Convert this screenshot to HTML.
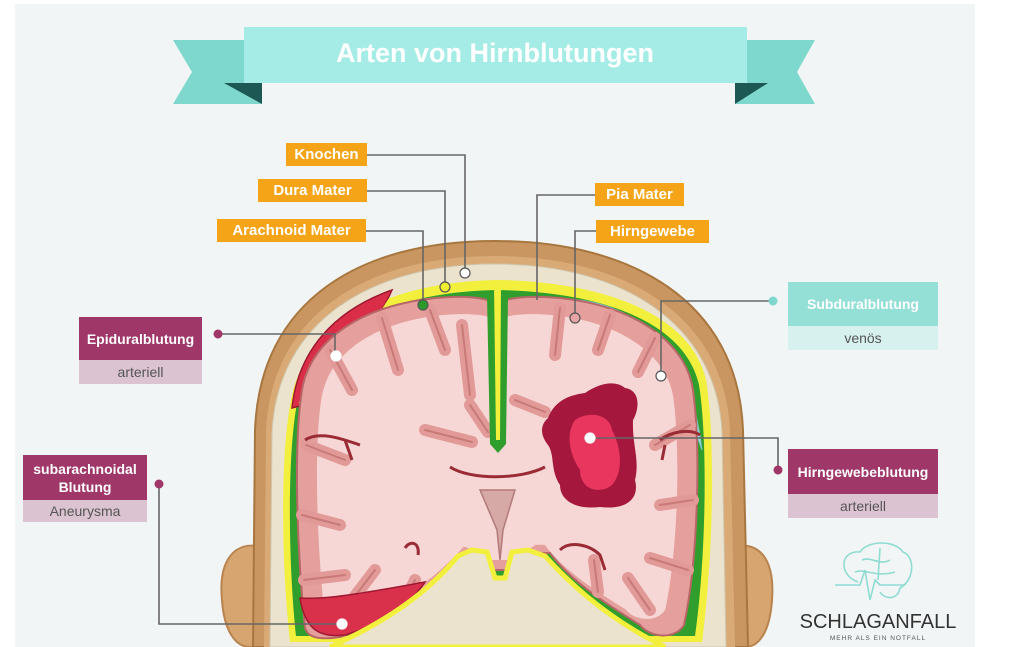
<!DOCTYPE html>
<html><head><meta charset="utf-8"><style>
html,body{margin:0;padding:0;background:#fff;}
body{width:1024px;height:647px;overflow:hidden;position:relative;font-family:"Liberation Sans",sans-serif;}
.bg{position:absolute;left:15px;top:4px;width:960px;height:643px;background:#f2f5f5;}
.lab{position:absolute;background:#f5a418;color:#fff;font-weight:bold;font-size:15px;line-height:23px;text-align:center;white-space:nowrap;}
.mg{position:absolute;background:#9f3769;color:#fff;font-weight:bold;font-size:14px;text-align:center;display:flex;align-items:center;justify-content:center;line-height:18px;}
.mgs{position:absolute;background:#dcc3d1;color:#555;font-size:14px;text-align:center;line-height:24px;}
.tl{position:absolute;background:#94e0d7;color:#fff;font-weight:bold;font-size:14px;text-align:center;line-height:44px;}
.tls{position:absolute;background:#d6f1ee;color:#555;font-size:14px;text-align:center;line-height:24px;}
</style></head><body>
<div class="bg"></div>
<svg width="1024" height="647" style="position:absolute;left:0;top:0">
<polygon points="173,40 262,40 262,104 173,104 192,72" fill="#7fd8cd"/>
<polygon points="815,40 735,40 735,104 815,104 797,72" fill="#7fd8cd"/>
<polygon points="224,83 262,83 262,104" fill="#1d5854"/>
<polygon points="768,83 735,83 735,104" fill="#1d5854"/>
<rect x="244" y="27" width="503" height="56" fill="#a4ece5"/>
<text x="495" y="62" text-anchor="middle" font-family="Liberation Sans" font-weight="bold" font-size="27" fill="#fff">Arten von Hirnblutungen</text>
<path d="M262,547 C235,540 218,560 222,600 C224,630 235,647 250,647 L268,647 Z" fill="#d7a56f" stroke="#b8834f" stroke-width="2"/>
<path d="M732,547 C760,540 775,560 772,600 C770,630 760,647 745,647 L728,647 Z" fill="#d7a56f" stroke="#b8834f" stroke-width="2"/>
<path d="M253,647 L255,430 C260,300 360,241 495,241 C630,241 738,300 743,430 L748,647 Z" fill="#c99560" stroke="#a8773f" stroke-width="2"/>
<path d="M264,647 L266,430 C272,312 370,256 495,256 C620,256 724,312 730,430 L735,647 Z" fill="#d9aa76"/>
<path d="M270,647 L272,432 C278,320 372,264 495,264 C618,264 716,320 722,432 L726,647 Z" fill="#ebe3cd" stroke="#cfc6ae" stroke-width="1"/>
<path d="M290,642 C281,560 280,450 292,395 C306,330 380,282 497,280 C612,282 692,318 706,380 C716,440 713,560 702,642 Z" fill="#f2f03c"/>
<path d="M296,636 C288,560 287,450 298,398 C310,336 382,292 497,290 C610,292 686,326 699,385 C708,440 706,560 695,636 Z" fill="#2f9e2c"/>
<!-- epidural -->
<path d="M292,408 C298,350 335,310 392,290 C378,322 345,365 300,406 Z" fill="#d92d48" stroke="#9e1830" stroke-width="1.5"/>
<path d="M300,404 C340,368 372,330 390,300" fill="none" stroke="#f2f03c" stroke-width="4"/>
<!-- subdural -->
<path d="M580,300 C640,308 690,350 702,450 C685,400 650,350 580,300 Z" fill="#9fdde0" stroke="#7bc3c8" stroke-width="1"/>
<path d="M305,628 C296,540 294,440 302,390 C312,330 380,300 450,297 C480,296 492,300 497,305 C502,300 515,296 545,297 C620,300 685,335 693,390 C701,450 698,560 684,625 C675,640 650,638 640,625 C600,600 570,580 550,553 L540,553 C530,560 520,565 508,570 L490,570 C480,565 470,558 460,555 C430,590 380,625 340,637 C320,640 308,638 305,628 Z" fill="#e5a09d" stroke="#b76767" stroke-width="2"/>
<g transform="translate(497,470) scale(0.9) translate(-497,-470)">
<path d="M305,628 C296,540 294,440 302,390 C312,330 380,300 450,297 C480,296 492,300 497,305 C502,300 515,296 545,297 C620,300 685,335 693,390 C701,450 698,560 684,625 C675,640 650,638 640,625 C600,600 570,580 550,553 L540,553 C530,560 520,565 508,570 L490,570 C480,565 470,558 460,555 C430,590 380,625 340,637 C320,640 308,638 305,628 Z" fill="#f7d7d5"/>
</g>
<g fill="none" stroke="#e19a97" stroke-width="12" stroke-linecap="round">
<path d="M330,350 L352,390 M382,318 L398,370 M430,310 L445,350 M462,325 L470,395 M306,445 L345,460 M302,515 L340,525 M304,580 L345,575 M352,600 L375,570 M400,612 L415,580 M425,430 L472,442 M470,405 L488,432"/>
<path d="M560,308 L555,355 M610,315 L598,350 M655,338 L638,372 M690,425 L655,445 M693,500 L660,505 M688,570 L650,558 M650,610 L628,578 M598,592 L594,560 M515,400 L545,412"/>
</g>
<g fill="none" stroke="#c87a78" stroke-width="2" stroke-linecap="round">
<path d="M330,350 L352,390 M382,318 L398,370 M430,310 L445,350 M462,325 L470,395 M306,445 L345,460 M302,515 L340,525 M304,580 L345,575 M352,600 L375,570 M400,612 L415,580 M425,430 L472,442 M470,405 L488,432"/>
<path d="M560,308 L555,355 M610,315 L598,350 M655,338 L638,372 M690,425 L655,445 M693,500 L660,505 M688,570 L650,558 M650,610 L628,578 M598,592 L594,560 M515,400 L545,412"/>
</g>
<g fill="none" stroke="#9a2b35" stroke-width="3">
<path d="M305,440 C320,430 345,440 360,445 M345,440 L352,460"/>
<path d="M660,440 C670,432 690,428 700,435 M665,445 L662,460"/>
<path d="M450,467 C470,480 520,480 545,467"/>
<path d="M560,550 C570,540 590,545 600,555 L605,570"/>
<path d="M405,548 C410,540 420,542 418,555"/>
</g>
<path d="M480,490 L497,530 L500,560 L503,530 L515,490 Z" fill="#d6a9a6" stroke="#b27a78" stroke-width="1.5"/>
<polygon points="487,296 508,296 506,444 498,453 490,444" fill="#2f9e2c"/>
<polygon points="494,284 501,284 500,440 496,440" fill="#f2f03c"/>
<path d="M300,598 C330,600 380,590 425,582 C410,605 380,625 345,635 C320,638 305,630 300,598 Z" fill="#d9304c" stroke="#9e1830" stroke-width="1.5"/>
<path d="M548,418 C555,400 570,395 585,393 C600,383 615,380 625,388 C640,390 640,408 633,420 C632,445 640,460 635,480 C640,500 625,510 600,507 C575,510 560,500 560,485 C550,470 555,455 548,445 C540,435 540,425 548,418 Z" fill="#a5173d"/>
<path d="M575,420 C590,410 610,415 612,430 C620,445 625,470 612,485 C600,495 580,490 580,470 C570,455 565,435 575,420 Z" fill="#e8365e"/>
<path d="M330,647 C390,620 430,590 458,556 L472,550 L487,552 L495,578 L505,578 L512,552 L528,550 L545,556 C580,595 620,625 665,647 Z" fill="#ebe3cd" stroke="#f2f03c" stroke-width="5"/>
<g fill="none" stroke="#666" stroke-width="1.6">
<path d="M367,155 H465 V273"/>
<path d="M367,191 H445 V287"/>
<path d="M366,231 H423 V305"/>
<path d="M595,195 H537 V300"/>
<path d="M596,231 H575 V318"/>
<path d="M218,334 H335 V356"/>
<path d="M159,484 V624 H342"/>
<path d="M773,301 H661 V376"/>
<path d="M778,470 V438 H590"/>
</g>
<g stroke="#555" stroke-width="1.2">
<circle cx="465" cy="273" r="5" fill="#fff"/>
<circle cx="445" cy="287" r="5" fill="#f0ec30"/>
<circle cx="423" cy="305" r="5" fill="#2a9a2a"/>
<circle cx="575" cy="318" r="5" fill="#e8a4a4"/>
<circle cx="336" cy="356" r="5" fill="#fff" stroke="#fff"/>
<circle cx="342" cy="624" r="5" fill="#fff" stroke="#fff"/>
<circle cx="661" cy="376" r="5" fill="#fff"/>
<circle cx="590" cy="438" r="5" fill="#fff" stroke="#fff"/>
</g>
<circle cx="218" cy="334" r="4.5" fill="#9f3769"/>
<circle cx="159" cy="484" r="4.5" fill="#9f3769"/>
<circle cx="778" cy="470" r="4.5" fill="#9f3769"/>
<circle cx="773" cy="301" r="4.5" fill="#7fd8cd"/>
<g fill="none" stroke="#8fdcd3" stroke-width="1.6">
<path d="M858,582 C838,575 840,550 860,552 C868,540 895,540 903,552 C915,556 915,580 900,588 C898,600 885,600 880,592"/>
<path d="M862,560 C870,556 880,566 890,560 M855,572 C865,568 875,578 895,572 M880,548 L878,580"/>
<path d="M835,585 H860 L865,570 L870,600 L875,580 L880,585 H905"/>
</g>
<text x="878" y="628" text-anchor="middle" font-family="Liberation Sans" font-size="20" fill="#333">SCHLAGANFALL</text>
<text x="878" y="640" text-anchor="middle" font-family="Liberation Sans" font-size="6.5" letter-spacing="1" fill="#555">MEHR ALS EIN NOTFALL</text>
</svg>
<div class="lab" style="left:286px;top:143px;width:81px">Knochen</div>
<div class="lab" style="left:258px;top:179px;width:109px">Dura Mater</div>
<div class="lab" style="left:217px;top:219px;width:149px">Arachnoid Mater</div>
<div class="lab" style="left:595px;top:183px;width:89px">Pia Mater</div>
<div class="lab" style="left:596px;top:220px;width:113px">Hirngewebe</div>
<div class="mg" style="left:79px;top:317px;width:123px;height:43px">Epiduralblutung</div>
<div class="mgs" style="left:79px;top:360px;width:123px;height:24px">arteriell</div>
<div class="mg" style="left:23px;top:455px;width:124px;height:45px">subarachnoidal<br>Blutung</div>
<div class="mgs" style="left:23px;top:500px;width:124px;height:22px;line-height:22px">Aneurysma</div>
<div class="tl" style="left:788px;top:282px;width:150px;height:44px">Subduralblutung</div>
<div class="tls" style="left:788px;top:326px;width:150px;height:24px">venös</div>
<div class="mg" style="left:788px;top:449px;width:150px;height:45px">Hirngewebeblutung</div>
<div class="mgs" style="left:788px;top:494px;width:150px;height:24px">arteriell</div>
</body></html>
